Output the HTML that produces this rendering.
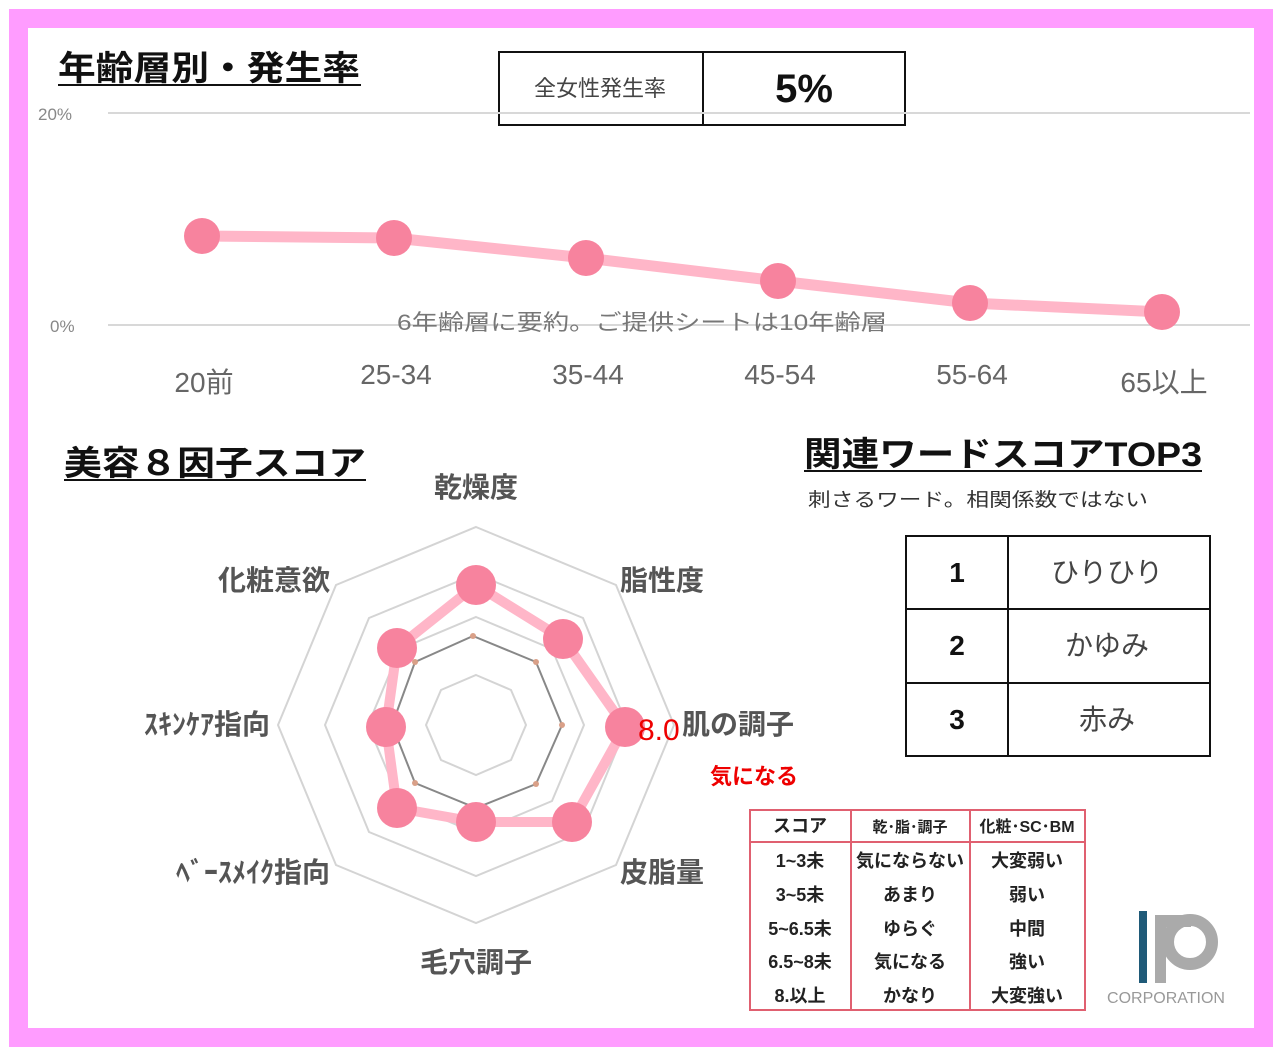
<!DOCTYPE html>
<html><head><meta charset="utf-8"><style>
body{margin:0;width:1280px;height:1054px;background:#fff;position:relative;overflow:hidden;font-family:"Liberation Sans","Noto Sans CJK JP",sans-serif}
.frame{position:absolute;left:9px;top:9px;width:1226px;height:1000px;border:19px solid #ff9cff}
.a{position:absolute;white-space:nowrap}
</style></head><body>
<div class="frame"></div>
<svg class="a" style="left:0;top:0" width="1280" height="1054" font-family="Liberation Sans, Noto Sans CJK JP, sans-serif">
<text x="58" y="80" font-size="34" font-weight="bold" fill="#111" textLength="302" lengthAdjust="spacingAndGlyphs">年齢層別・発生率</text>
<line x1="58" y1="85" x2="361" y2="85" stroke="#111" stroke-width="2"/>
<text x="64" y="475" font-size="34" font-weight="bold" fill="#111" textLength="302" lengthAdjust="spacingAndGlyphs">美容８因子スコア</text>
<line x1="64" y1="480" x2="366" y2="480" stroke="#111" stroke-width="2"/>
<text x="804" y="466" font-size="34" font-weight="bold" fill="#111" textLength="398" lengthAdjust="spacingAndGlyphs">関連ワードスコアTOP3</text>
<line x1="804" y1="471" x2="1202" y2="471" stroke="#111" stroke-width="2"/>
<text x="808" y="506" font-size="19" fill="#333" textLength="340" lengthAdjust="spacingAndGlyphs">刺さるワード。相関係数ではない</text>
<rect x="499" y="52" width="406" height="73" fill="none" stroke="#111" stroke-width="2"/>
<line x1="703" y1="52" x2="703" y2="125" stroke="#111" stroke-width="2"/>
<text x="600" y="96" font-size="22" fill="#444" text-anchor="middle">全女性発生率</text>
<text x="804" y="102" font-size="40" font-weight="bold" fill="#111" text-anchor="middle">5%</text>
<text x="38" y="120" font-size="17" fill="#888">20%</text>
<text x="50" y="332" font-size="17" fill="#888">0%</text>
<line x1="108" y1="113" x2="1250" y2="113" stroke="#d8d8d8" stroke-width="2"/>
<line x1="108" y1="325" x2="1250" y2="325" stroke="#d8d8d8" stroke-width="2"/>
<text x="642" y="330" font-size="22" fill="#777" text-anchor="middle" textLength="490" lengthAdjust="spacingAndGlyphs">6年齢層に要約。ご提供シートは10年齢層</text>
<polyline points="202,236 394,238 586,258 778,281 970,303 1162,312" fill="none" stroke="#ffb6c8" stroke-width="11"/>
<g fill="#f7839e">
<circle cx="202" cy="236" r="18"/><circle cx="394" cy="238" r="18"/><circle cx="586" cy="258" r="18"/><circle cx="778" cy="281" r="18"/><circle cx="970" cy="303" r="18"/><circle cx="1162" cy="312" r="18"/></g>
<g font-size="28" fill="#666" text-anchor="middle">
<text x="204" y="392">20前</text><text x="396" y="384">25-34</text><text x="588" y="384">35-44</text><text x="780" y="384">45-54</text><text x="972" y="384">55-64</text><text x="1164" y="392">65以上</text></g>
<g fill="none" stroke="#d4d4d4" stroke-width="2">
<polygon points="476,675 511,690 526,725 511,760 476,775 441,760 426,725 441,690"/>
<polygon points="476,617 552,649 584,725 552,801 476,833 400,801 368,725 400,649"/>
<polygon points="476,574 583,618 627,725 583,832 476,876 369,832 325,725 369,618"/>
<polygon points="476,527 616,585 674,725 616,865 476,923 336,865 278,725 336,585"/>
</g>
<polygon points="473,636 536,662 562,725 536,784 476,808 415,783 392,725 415,662" fill="none" stroke="#888" stroke-width="2"/>
<g fill="#d9a088"><circle cx="473" cy="636" r="3"/><circle cx="536" cy="662" r="3"/><circle cx="562" cy="725" r="3"/><circle cx="536" cy="784" r="3"/><circle cx="415" cy="783" r="3"/><circle cx="415" cy="662" r="3"/></g>
<polygon points="476,585 563,639 625,727 572,822 476,822 397,808 386,727 397,648" fill="none" stroke="#ffb6c8" stroke-width="10"/>
<g fill="#f7839e">
<circle cx="476" cy="585" r="20"/><circle cx="563" cy="639" r="20"/><circle cx="625" cy="727" r="20"/><circle cx="572" cy="822" r="20"/><circle cx="476" cy="822" r="20"/><circle cx="397" cy="808" r="20"/><circle cx="386" cy="727" r="20"/><circle cx="397" cy="648" r="20"/></g>
<g font-size="28" font-weight="bold" fill="#555">
<text x="476" y="497" text-anchor="middle">乾燥度</text>
<text x="620" y="590">脂性度</text>
<text x="682" y="734">肌の調子</text>
<text x="620" y="882">皮脂量</text>
<text x="476" y="972" text-anchor="middle">毛穴調子</text>
<text x="330" y="882" text-anchor="end">ﾍﾞｰｽﾒｲｸ指向</text>
<text x="270" y="734" text-anchor="end">ｽｷﾝｹｱ指向</text>
<text x="330" y="590" text-anchor="end">化粧意欲</text></g>
<text x="638" y="740" font-size="30" fill="#e00">8.0</text>
<text x="710" y="784" font-size="22" font-weight="bold" fill="#e00">気になる</text>
<g stroke="#111" stroke-width="2" fill="none">
<rect x="906" y="536" width="304" height="220"/>
<line x1="1008" y1="536" x2="1008" y2="756"/>
<line x1="906" y1="609" x2="1210" y2="609"/>
<line x1="906" y1="683" x2="1210" y2="683"/></g>
<g font-size="28" text-anchor="middle">
<text x="957" y="582" font-weight="bold" fill="#111">1</text><text x="1107" y="582" fill="#444">ひりひり</text>
<text x="957" y="655" font-weight="bold" fill="#111">2</text><text x="1107" y="655" fill="#444">かゆみ</text>
<text x="957" y="729" font-weight="bold" fill="#111">3</text><text x="1107" y="729" fill="#444">赤み</text></g>
<g stroke="#e06070" stroke-width="2" fill="none">
<rect x="750" y="810" width="335" height="200"/>
<line x1="851" y1="810" x2="851" y2="1010"/>
<line x1="970" y1="810" x2="970" y2="1010"/>
<line x1="750" y1="842" x2="1085" y2="842"/></g>
<g font-size="18" fill="#222" text-anchor="middle" font-weight="bold">
<text x="800" y="832">スコア</text><text x="910" y="832" font-size="15">乾･脂･調子</text><text x="1027" y="832" font-size="16">化粧･SC･BM</text>
<text x="800" y="867">1~3未</text><text x="910" y="867">気にならない</text><text x="1027" y="867">大変弱い</text>
<text x="800" y="901">3~5未</text><text x="910" y="901">あまり</text><text x="1027" y="901">弱い</text>
<text x="800" y="935">5~6.5未</text><text x="910" y="935">ゆらぐ</text><text x="1027" y="935">中間</text>
<text x="800" y="968">6.5~8未</text><text x="910" y="968">気になる</text><text x="1027" y="968">強い</text>
<text x="800" y="1002">8.以上</text><text x="910" y="1002">かなり</text><text x="1027" y="1002">大変強い</text></g>
<rect x="1139" y="911" width="8" height="72" fill="#1f5a78"/>
<circle cx="1190" cy="942" r="22" fill="none" stroke="#aaa" stroke-width="12"/>
<rect x="1155" y="915" width="36" height="12" fill="#aaa"/>
<rect x="1155" y="915" width="11" height="68" fill="#aaa"/>
<text x="1166" y="1003" font-size="16" fill="#999" text-anchor="middle">CORPORATION</text>
</svg>
</body></html>
